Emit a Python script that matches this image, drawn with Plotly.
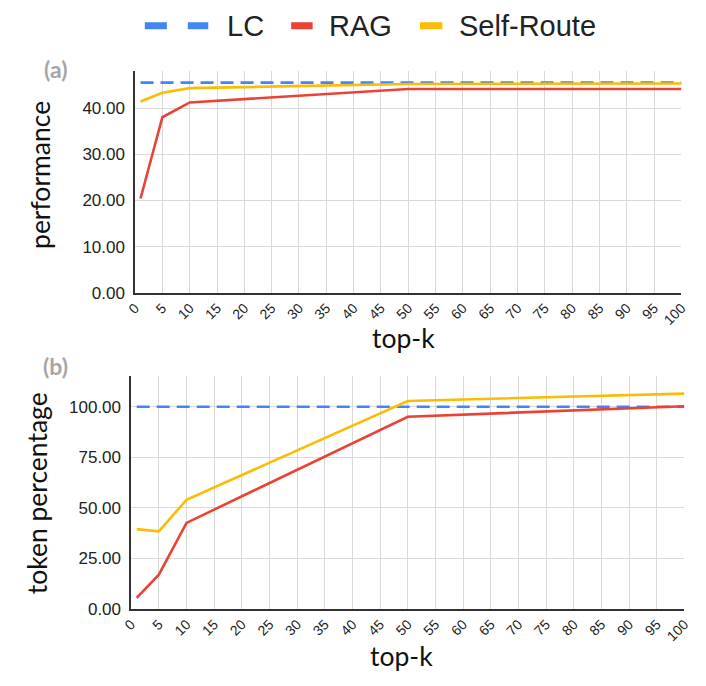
import plotly.graph_objects as go

# top-k values used for the retrieval runs
top_k = [1, 5, 10, 50, 100]

# (a) performance
perf_lc = [45.5, 45.5, 45.5, 45.5, 45.5]
perf_rag = [20.4, 38.0, 41.2, 44.1, 44.1]
perf_self_route = [41.4, 43.3, 44.3, 45.2, 45.3]

# (b) token percentage
tok_lc = [100.0, 100.0, 100.0, 100.0, 100.0]
tok_rag = [5.5, 17.0, 42.6, 95.1, 100.3]
tok_self_route = [39.5, 38.4, 54.0, 102.9, 106.5]

x_ticks = list(range(0, 101, 5))

BLUE = "#4285F4"
RED = "#EA4335"
YELLOW = "#FBBC04"
TITLE_FONT = "Lato, Carlito, sans-serif"
TICK_FONT = "Liberation Sans, Arial, sans-serif"

# page body keeps its default 8px margin, so the figure is a bit smaller
W, H, OFF = 698, 678, 8


def px(x):
    return (x - OFF) / W


def py(y):
    return 1 - (y - OFF) / H


fig = go.Figure()

series = [
    ("LC", perf_lc, tok_lc, BLUE, "13px,7px"),
    ("RAG", perf_rag, tok_rag, RED, "solid"),
    ("Self-Route", perf_self_route, tok_self_route, YELLOW, "solid"),
]
for name, top_vals, bottom_vals, color, dash in series:
    fig.add_trace(go.Scatter(
        x=top_k, y=top_vals, name=name, mode="lines",
        line=dict(color=color, width=2.6, dash=dash),
        xaxis="x", yaxis="y", showlegend=False,
    ))
    fig.add_trace(go.Scatter(
        x=top_k, y=bottom_vals, name=name, mode="lines",
        line=dict(color=color, width=2.6, dash=dash),
        xaxis="x2", yaxis="y2", showlegend=False,
    ))

xaxis_style = dict(
    range=[0, 100], tickvals=x_ticks, ticktext=[str(v) for v in x_ticks],
    tickangle=-45, showgrid=True, gridcolor="#D9D9D9", gridwidth=1,
    showline=True, linecolor="#333333", linewidth=1.5, zeroline=False,
    ticks="", tickfont=dict(family=TICK_FONT, size=14, color="#222222"),
)
yaxis_style = dict(
    tickformat=".2f", showgrid=True, gridcolor="#D9D9D9", gridwidth=1,
    showline=True, linecolor="#333333", linewidth=1.5, zeroline=False,
    ticks="", ticklabelstandoff=5,
    tickfont=dict(family=TICK_FONT, size=17, color="#222222"),
)

fig.update_layout(
    width=W, height=H,
    margin=dict(l=0, r=0, t=0, b=0),
    paper_bgcolor="white", plot_bgcolor="white",
    showlegend=False,
    xaxis=dict(domain=[px(128), px(688)], anchor="y", **xaxis_style),
    yaxis=dict(domain=[py(297), py(72)], anchor="x", range=[0, 48],
               tickvals=[0, 10, 20, 30, 40], **yaxis_style),
    xaxis2=dict(domain=[px(124), px(691)], anchor="y2", **xaxis_style),
    yaxis2=dict(domain=[py(618), py(382)], anchor="x2", range=[0, 115],
                tickvals=[0, 25, 50, 75, 100], **yaxis_style),
)

# legend drawn by hand: sample line, then the label
legend_items = [
    ("LC", BLUE, 138, 203, "22px,21px", 220),
    ("RAG", RED, 288, 310, "solid", 325),
    ("Self-Route", YELLOW, 420, 443, "solid", 458),
]
for label, color, x0, x1, dash, tx in legend_items:
    fig.add_shape(
        type="line", xref="paper", yref="paper",
        x0=px(x0), x1=px(x1), y0=py(26), y1=py(26),
        line=dict(color=color, width=7, dash=dash),
    )
    fig.add_annotation(
        text=label, x=px(tx), y=py(26), xref="paper", yref="paper",
        xanchor="left", yanchor="middle", showarrow=False,
        font=dict(family=TICK_FONT, size=29, color="#222222"),
    )

annotations = [
    ("performance", 30, 177, -90),
    ("token percentage", 27, 501, -90),
    ("top-k", 403, 343, 0),
    ("top-k", 401, 666, 0),
]
for text, x, y, angle in annotations:
    fig.add_annotation(
        text=text, x=px(x), y=py(y),
        xref="paper", yref="paper", xanchor="center", yanchor="middle",
        textangle=angle, showarrow=False,
        font=dict(family=TITLE_FONT, size=26.5, color="#111111"),
    )

for label, ypos in [("(a)", 70), ("(b)", 371)]:
    fig.add_annotation(
        text="<b>" + label + "</b>", x=px(46), y=py(ypos),
        xref="paper", yref="paper", xanchor="center", yanchor="middle",
        showarrow=False,
        font=dict(family=TITLE_FONT, size=23, color="#A6A6A6"),
    )

fig.write_html("out.html")
